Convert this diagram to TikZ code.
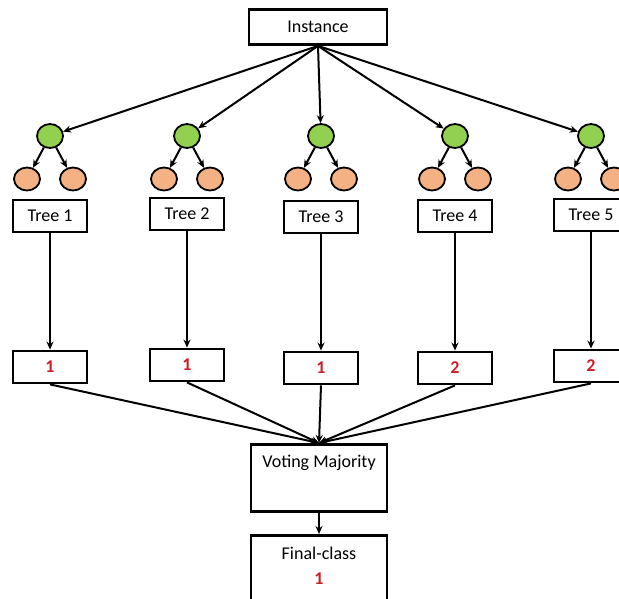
\documentclass[tikz,border=0pt]{standalone}
\usepackage{fontspec}
\setmainfont{Carlito}
\usetikzlibrary{arrows.meta,shapes.geometric}
\definecolor{leafgreen}{RGB}{146,208,80}
\definecolor{leaforange}{RGB}{244,177,131}
\definecolor{votered}{RGB}{204,30,40}

\begin{document}
\begin{tikzpicture}[x=1pt,y=-1pt,>={Stealth[length=8pt,width=7pt]},
    box/.style={draw,line width=2.8pt,minimum width=74pt,minimum height=32pt,inner sep=0pt,font=\fontsize{18}{21}\selectfont},
    rootnode/.style={ellipse,draw,line width=1.8pt,fill=leafgreen,minimum width=26pt,minimum height=24pt,inner sep=0pt},
    leafnode/.style={ellipse,draw,line width=1.8pt,fill=leaforange,minimum width=26pt,minimum height=23pt,inner sep=0pt},
    link/.style={->,line width=2pt}]
    \useasboundingbox (0,0) rectangle (619,598);
    \clip (0,0) rectangle (619,598);

    \node[box,minimum width=138pt,minimum height=35pt] (inst) at (318,27) {Instance};

    % Trees and their votes
    \foreach \i/\x/\ty/\ny/\cls in {1/50/216/367/1,2/187/214/365/1,3/321/217/368/1,4/455/216/368/2,5/591/215/366/2}{
        \node[rootnode] (g\i) at (\x,136) {};
        \node[leafnode] (l\i) at ({\x-23},179) {};
        \node[leafnode] (r\i) at ({\x+23},179) {};
        \node[box] (t\i) at (\x,\ty) {Tree \i};
        \node[box] (n\i) at (\x,\ny) {\textcolor{votered}{\bfseries\cls}};
        \draw[link] (inst.south) -- (g\i);
        \draw[link] (g\i) -- (l\i);
        \draw[link] (g\i) -- (r\i);
        \draw[link] (t\i) -- (n\i);
    }

    % Voting
    \node[box,minimum width=136pt,anchor=north,text height=23pt,text depth=44pt] (vote) at (319,443) {Voting Majority};
    \foreach \i in {1,...,5}
        \draw[link] (n\i.south) -- (vote.north);

    \node[box,minimum width=136pt,anchor=north,text height=24pt,text depth=70pt] (final) at (319,534)
        {\begin{tabular}[t]{@{}c@{}}Final-class\\[4pt]\textcolor{votered}{\bfseries 1}\end{tabular}};
    \draw[link] (vote) -- (final);
\end{tikzpicture}
\end{document}
